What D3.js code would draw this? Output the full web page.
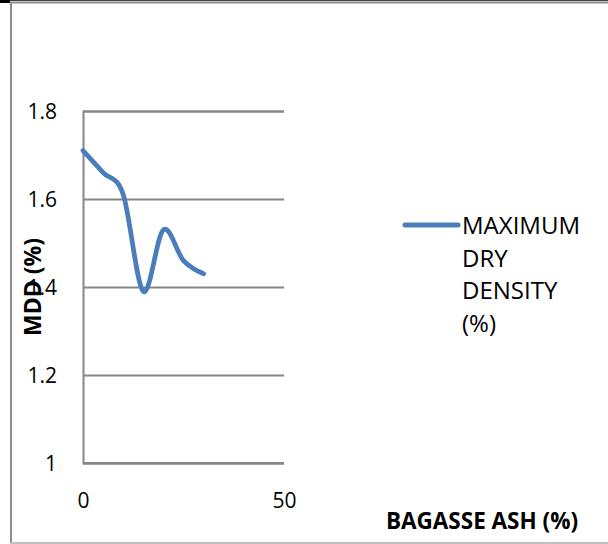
<!DOCTYPE html>
<html>
<head>
<meta charset="utf-8">
<script src="https://cdn.jsdelivr.net/npm/d3@7"></script>
<style>
  html, body { margin: 0; padding: 0; background: #fff; }
  svg { display: block; }
  text { font-family: "Open Sans", "Liberation Sans", sans-serif; fill: #000; }
</style>
</head>
<body>
<svg id="chart" width="608" height="544"></svg>
<script>
// Bagasse ash content (%) and maximum dry density
const ashContent = [0, 5, 10, 15, 20, 25, 30];
const maxDryDensity = [1.71, 1.66, 1.61, 1.39, 1.53, 1.46, 1.43];
const xTicks = [0, 50];
const yTicks = [1, 1.2, 1.4, 1.6, 1.8];
const seriesName = ["MAXIMUM", "DRY", "DENSITY", "(%)"];
const xTitle = "BAGASSE ASH (%)";
const yTitle = "MDD (%)";

const svg = d3.select("#chart");
const lineColor = "#4a7ebb";
const gridColor = "#868686";

// chart area frame
svg.append("rect").attr("x", 0).attr("y", 0).attr("width", 10).attr("height", 3).attr("fill", "#000");
svg.append("rect").attr("x", 10).attr("y", 0).attr("width", 598).attr("height", 1).attr("fill", "#404040");
svg.append("line").attr("x1", 10).attr("x2", 608).attr("y1", 2.5).attr("y2", 2.5)
  .attr("stroke", "#8c8c8c").attr("stroke-width", 2);
svg.append("line").attr("x1", 11).attr("x2", 11).attr("y1", 2).attr("y2", 544)
  .attr("stroke", "#8c8c8c").attr("stroke-width", 2);
svg.append("line").attr("x1", 10).attr("x2", 608).attr("y1", 543).attr("y2", 543)
  .attr("stroke", "#c0c0c0").attr("stroke-width", 2);

const x = d3.scaleLinear().domain([0, 50]).range([83, 284]);
const y = d3.scaleLinear().domain([1, 1.8]).range([463, 111]);

// horizontal gridlines and value labels
const yAxis = d3.axisLeft(y).tickValues(yTicks).tickSize(-(x.range()[1] - x.range()[0]))
  .tickPadding(26).tickFormat(d => d3.format("")(d));
const gy = svg.append("g").attr("transform", `translate(${x.range()[0]},0)`).call(yAxis);
gy.select(".domain").attr("stroke", gridColor).attr("stroke-width", 2);
gy.selectAll(".tick line").attr("stroke", gridColor).attr("stroke-width", 2);
gy.selectAll(".tick text").attr("font-size", 21).attr("font-family", "'Open Sans', sans-serif")
  .attr("fill", "#000").attr("dy", "0.36em");

// x axis labels (no tick marks)
const xAxis = d3.axisBottom(x).tickValues(xTicks).tickSize(0).tickPadding(0);
const gx = svg.append("g").attr("transform", `translate(0,${y.range()[0]})`).call(xAxis);
gx.select(".domain").attr("stroke", gridColor).attr("stroke-width", 2).attr("d", `M${x.range()[0]},0H${x.range()[1]}`);
gx.selectAll(".tick text").attr("font-size", 21).attr("font-family", "'Open Sans', sans-serif")
  .attr("fill", "#000").attr("dy", null).attr("y", 45);

// smoothed data line
const line = d3.line()
  .x((d, i) => x(ashContent[i]))
  .y(d => y(d))
  .curve(d3.curveCatmullRom.alpha(0));
svg.append("path").datum(maxDryDensity)
  .attr("d", line)
  .attr("fill", "none")
  .attr("stroke", lineColor)
  .attr("stroke-width", 4.75)
  .attr("stroke-linecap", "round")
  .attr("stroke-linejoin", "round");

// legend
svg.append("line").attr("x1", 405).attr("x2", 458).attr("y1", 225).attr("y2", 225)
  .attr("stroke", lineColor).attr("stroke-width", 5).attr("stroke-linecap", "round");
const legText = svg.append("text").attr("x", 462).attr("y", 234).attr("font-size", 24);
seriesName.forEach((s, i) => {
  legText.append("tspan").attr("x", 462).attr("y", 234 + i * 32.5).text(s);
});

// axis titles
svg.append("text").attr("x", 482).attr("y", 529).attr("text-anchor", "middle")
  .attr("font-size", 22.5).attr("font-weight", "bold").text(xTitle);
svg.append("text").attr("transform", "translate(41,287) rotate(-90)").attr("text-anchor", "middle")
  .attr("font-size", 23).attr("font-weight", "bold").text(yTitle);
</script>
</body>
</html>
